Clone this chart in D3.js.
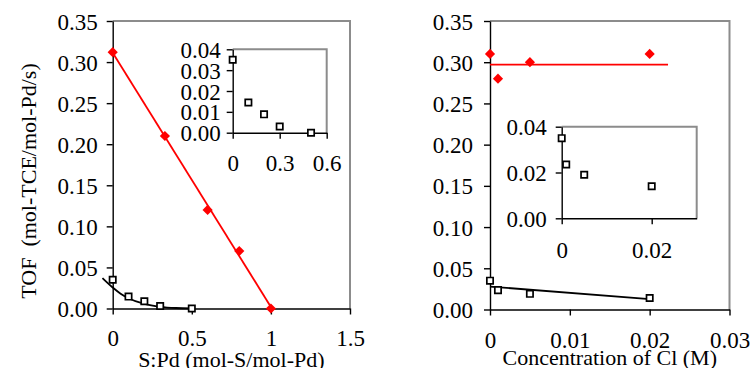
<!DOCTYPE html>
<html><head><meta charset="utf-8">
<script src="https://cdn.jsdelivr.net/npm/d3@7/dist/d3.min.js"></script>
<style>
html,body{margin:0;padding:0;background:#fff;}
svg{display:block;}
svg text{font-family:"Liberation Serif","Times New Roman",serif !important;fill:#000;}
</style></head>
<body>
<svg id="c" width="751" height="368"></svg>
<script>
// ---------- DATA ----------
// Left panel: S:Pd ratio
const sPdRed = [0, 0.33, 0.6, 0.8, 1.0];
const tofRedS = [0.312, 0.21, 0.12, 0.07, 0.0];
const sPdSq = [0, 0.1, 0.2, 0.3, 0.5];
const tofSqS = [0.035, 0.0145, 0.0088, 0.003, 0.0];
// black trend curve
const curveSX = [-0.065, 0, 0.05, 0.1, 0.2, 0.3, 0.4, 0.5];
const curveSY = [0.037, 0.0255, 0.018, 0.0125, 0.0055, 0.002, 0.0006, 0.0002];
// Right panel: Cl concentration
const clConc = [0, 0.001, 0.005, 0.02];
const tofRedCl = [0.31, 0.28, 0.30, 0.31];
const tofSqCl = [0.035, 0.0235, 0.019, 0.014];
const redLineClX = [0, 0.0223];
const redLineClY = [0.297, 0.297];
// ticks
const mainYTicks = [0, 0.05, 0.10, 0.15, 0.20, 0.25, 0.30, 0.35];
const leftXTicks = [0, 0.5, 1, 1.5];
const leftXLabels = ["0", "0.5", "1", "1.5"];
const insetLYTicks = [0, 0.01, 0.02, 0.03, 0.04];
const insetLXTicks = [0, 0.3, 0.6];
const insetLXLabels = ["0", "0.3", "0.6"];
const rightXTicks = [0, 0.01, 0.02, 0.03];
const rightXLabels = ["0", "0.01", "0.02", "0.03"];
const insetRYTicks = [0, 0.02, 0.04];
const insetRXTicks = [0, 0.02];
const insetRXLabels = ["0", "0.02"];
const yTitle = "TOF\u00a0\u00a0(mol-TCE/mol-Pd/s)";
const xTitleL = "S:Pd (mol-S/mol-Pd)";
const xTitleR = "Concentration of Cl (M)";

// ---------- HELPERS ----------
const svg = d3.select("#c");
const FS = 22;      // titles
const TFS = 23;     // tick labels
const FONT = '"Liberation Serif", "Times New Roman", serif';
const f2 = d3.format(".2f");

function linreg(xs, ys) {
  const mx = d3.mean(xs), my = d3.mean(ys);
  let sxy = 0, sxx = 0;
  xs.forEach((x, i) => { sxy += (x - mx) * (ys[i] - my); sxx += (x - mx) * (x - mx); });
  const b = sxy / sxx;
  return { a: my - b * mx, b };
}

function panel(o) {
  const g = svg.append("g");
  const x = d3.scaleLinear().domain(o.xd).range(o.xr);
  const y = d3.scaleLinear().domain(o.yd).range(o.yr);
  g.append("path")
    .attr("d", `M${o.xr[0]},${o.yr[1]}H${o.xr[1]}V${o.yr[0]}`)
    .attr("fill", "none").attr("stroke", "#8c8c8c").attr("stroke-width", 2);
  const ya = g.append("g").attr("transform", `translate(${o.xr[0]},0)`)
    .call(d3.axisLeft(y).tickValues(o.yt).tickFormat(f2).tickSize(6).tickSizeOuter(0).tickPadding(o.yp));
  const xa = g.append("g").attr("transform", `translate(0,${o.yr[0]})`)
    .call(d3.axisBottom(x).tickValues(o.xt).tickFormat((d, i) => o.xl[i]).tickSize(6).tickSizeOuter(0));
  [ya, xa].forEach(a => {
    a.attr("font-family", FONT).attr("font-size", TFS);
    a.select(".domain").attr("stroke", "#000").attr("stroke-width", 1.4);
    a.selectAll(".tick line").attr("stroke", "#000").attr("stroke-width", 1.4);
    a.selectAll("text").attr("font-family", FONT).attr("font-size", TFS).attr("fill", "#000");
  });
  ya.selectAll("text").attr("dy", "0.35em");
  xa.selectAll("text").attr("y", o.xlo).attr("dy", "0.35em");
  return { g, x, y };
}

function squares(p, xs, ys) {
  p.g.append("g").selectAll("path").data(xs).join("path")
    .attr("d", d3.symbol(d3.symbolSquare, 40))
    .attr("transform", (d, i) => `translate(${p.x(d)},${p.y(ys[i])})`)
    .attr("fill", "#fff").attr("stroke", "#000").attr("stroke-width", 1.7);
}
function diamonds(p, xs, ys) {
  p.g.append("g").selectAll("path").data(xs).join("path")
    .attr("d", d3.symbol(d3.symbolSquare, 52))
    .attr("transform", (d, i) => `translate(${p.x(d)},${p.y(ys[i])}) rotate(45)`)
    .attr("fill", "#ff0000");
}
function line(p, xs, ys, color, curve) {
  p.g.append("path")
    .datum(xs.map((d, i) => [d, ys[i]]))
    .attr("d", d3.line().x(d => p.x(d[0])).y(d => p.y(d[1])).curve(curve || d3.curveLinear))
    .attr("fill", "none").attr("stroke", color).attr("stroke-width", 1.8);
}

// ---------- LEFT MAIN ----------
const L = panel({ xd: [0, 1.5], xr: [112.7, 350], yd: [0, 0.35], yr: [308.5, 21],
  yt: mainYTicks, yp: 9, xt: leftXTicks, xl: leftXLabels, xlo: 29.5 });
const rl = linreg(sPdRed, tofRedS);
line(L, [0, 1.0], [rl.a, rl.a + rl.b * 1.0], "#ff0000");
line(L, curveSX, curveSY, "#000", d3.curveMonotoneX);
diamonds(L, sPdRed, tofRedS);
squares(L, sPdSq, tofSqS);

// left inset
const LI = panel({ xd: [0, 0.6], xr: [232.7, 326.7], yd: [0, 0.04], yr: [132.7, 49.3],
  yt: insetLYTicks, yp: 6, xt: insetLXTicks, xl: insetLXLabels, xlo: 30.3 });
squares(LI, sPdSq, tofSqS);

// ---------- RIGHT MAIN ----------
const R = panel({ xd: [0, 0.03], xr: [490, 729.5], yd: [0, 0.35], yr: [309.5, 21],
  yt: mainYTicks, yp: 11, xt: rightXTicks, xl: rightXLabels, xlo: 30.5 });
line(R, redLineClX, redLineClY, "#ff0000");
const rr = linreg(clConc, tofSqCl);
line(R, [0, 0.02], [rr.a, rr.a + rr.b * 0.02], "#000");
diamonds(R, clConc, tofRedCl);
squares(R, clConc, tofSqCl);

// right inset
const RI = panel({ xd: [0, 0.03], xr: [561.7, 696.7], yd: [0, 0.04], yr: [218.3, 126.7],
  yt: insetRYTicks, yp: 9, xt: insetRXTicks, xl: insetRXLabels, xlo: 31.7 });
squares(RI, clConc, tofSqCl);

// ---------- TITLES ----------
svg.append("text").attr("transform", "translate(36,181) rotate(-90)")
  .attr("text-anchor", "middle").attr("font-size", FS).text(yTitle);
svg.append("text").attr("x", (112.7 + 350) / 2).attr("y", 366.5)
  .attr("text-anchor", "middle").attr("font-size", FS).text(xTitleL);
svg.append("text").attr("x", (490 + 729.5) / 2).attr("y", 365)
  .attr("text-anchor", "middle").attr("font-size", FS).text(xTitleR);
</script>
</body></html>
